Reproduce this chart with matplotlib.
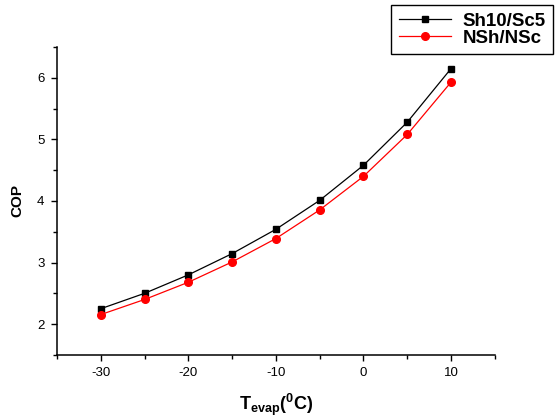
import matplotlib
matplotlib.use("Agg")
import matplotlib.pyplot as plt
from matplotlib.ticker import MultipleLocator

plt.rcParams['font.family'] = ['Liberation Sans', 'DejaVu Sans']
plt.rcParams['mathtext.fontset'] = 'custom'
plt.rcParams['mathtext.rm'] = 'Liberation Sans'
plt.rcParams['mathtext.bf'] = 'Liberation Sans:bold'
plt.rcParams['axes.unicode_minus'] = False

# Evaporator temperature (C)
t_evap = [-30, -25, -20, -15, -10, -5, 0, 5, 10]
# COP values
cop_sh10_sc5 = [2.25, 2.50, 2.80, 3.145, 3.54, 4.01, 4.58, 5.28, 6.15]
cop_nsh_nsc = [2.155, 2.40, 2.68, 3.01, 3.39, 3.855, 4.40, 5.08, 5.93]
series_labels = ['Sh10/Sc5', 'NSh/NSc']

fig = plt.figure(figsize=(5.56, 4.2), dpi=100)
ax = fig.add_axes([0.1025, 0.155, 0.7875, 0.733])

ax.plot(t_evap, cop_sh10_sc5, color='black', lw=0.9, marker='s', ms=5,
        label=series_labels[0])
ax.plot(t_evap, cop_nsh_nsc, color='red', lw=0.9, marker='o', ms=5.5,
        label=series_labels[1])

ax.set_xlim(-35, 15)
ax.set_ylim(1.5, 6.5)
ax.xaxis.set_major_locator(MultipleLocator(10))
ax.xaxis.set_minor_locator(MultipleLocator(5))
ax.yaxis.set_major_locator(MultipleLocator(1))
ax.yaxis.set_minor_locator(MultipleLocator(0.5))
ax.tick_params(which='both', direction='out', width=1, labelsize=9.5)
ax.tick_params(which='major', length=4, pad=5)
ax.tick_params(which='minor', length=3)

for side in ['top', 'right']:
    ax.spines[side].set_visible(False)
for side in ['left', 'bottom']:
    ax.spines[side].set_linewidth(1.1)

ax.set_ylabel('COP', fontsize=11, fontweight='bold', labelpad=9)
ax.set_xlabel(r'$\mathbf{T_{evap}(^{0}C)}$', fontsize=13, labelpad=9)

leg = ax.legend(loc='upper right', bbox_to_anchor=(0.995, 0.988),
                bbox_transform=fig.transFigure, borderaxespad=0,
                prop={'weight': 'bold', 'size': 13.5}, handlelength=2.8,
                fancybox=False, edgecolor='black', framealpha=1,
                borderpad=0.4, labelspacing=0.0, handletextpad=0.6)
leg.get_frame().set_linewidth(1.0)

fig.savefig('out.png', dpi=100)
